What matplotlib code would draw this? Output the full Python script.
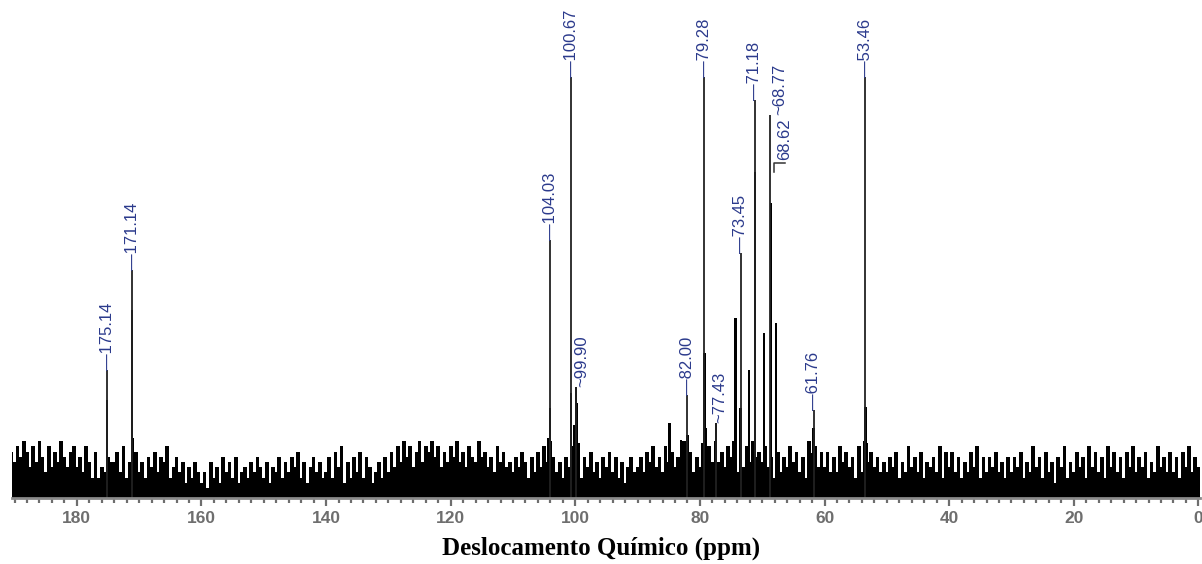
import numpy as np
import matplotlib.pyplot as plt
from matplotlib.ticker import MultipleLocator, FormatStrFormatter

# baseline noise, one level per 0.5 ppm from 190.5 ppm downwards (0..9, read by eye)
noise_levels = (
    "7"
    "58697485963847596478"  # 190 - 180.5
    "46385272436557382547"  # 180 - 170.5
    "35264736582463514253"  # 170 - 160.5
    "13052416352613425364"  # 160 - 150.5
    "25143625364725146352"  # 150 - 140.5
    "36274815263726413526"  # 140 - 130.5
    "37485968479587968475"  # 130 - 120.5
    "86957486596746385745"  # 120 - 110.5
    "36475263748596352648"  # 110 - 100.5
    "35264735264736251463"  # 100 - 90.5
    "46375846385746295736"  # 90 - 80.5
    "47385957486936485967"  # 80 - 70.5
    "58462736485736295847"  # 70 - 60.5
    "47363857462839574635"  # 60 - 50.5
    "36472538463725463827"  # 50 - 40.5
    "47362537482636473526"  # 40 - 30.5
    "36472538462735164825"  # 30 - 20.5
    "37462847362847362748"  # 20 - 10.5
    "36472538463736274836"  # 10 - 0.5
    "45"
)

# signals (ppm, height above baseline in px of the original plot)
peak_ppm = [175.14, 171.14, 171.0, 104.3, 104.03, 100.67, 100.2, 99.90, 99.7, 99.5,
            84.9, 83.0, 82.00, 79.6, 79.28, 79.0, 77.43, 74.25, 73.45, 72.15,
            71.18, 69.7, 68.62, 67.8, 62.0, 61.76, 53.46, 53.2]
peak_height = [98, 188, 60, 60, 90, 105, 73, 111, 95, 55,
               75, 58, 63, 55, 145, 70, 75, 180, 90, 128,
               326, 165, 295, 175, 45, 70, 91, 55]

# peak labels: ppm, text, height where the label starts, sideways shift (ppm)
label_ppm = [175.14, 171.14, 104.03, 100.67, 99.90, 82.00, 79.28, 77.43,
             73.45, 71.18, 68.77, 68.62, 61.76, 53.46]
label_text = ["—175.14", "—171.14", "—104.03", "—100.67", "~99.90", "—82.00",
              "—79.28", "~77.43", "—73.45", "—71.18", "~68.77", "68.62",
              "—61.76", "—53.46"]
label_start = [128, 228, 258, 421, 111, 103, 421, 75, 245, 398, 383, 338, 88, 421]
label_shift = [0, 0, 0, 0, -0.9, 0, 0, -0.6, 0, 0, -1.6, -2.2, 0, 0]

tick_color = "#6e6e6e"
label_color = "#2b3a8c"

fig = plt.figure(figsize=(12.02, 5.64), dpi=100)
ax = fig.add_axes([0.01, 0.117, 0.988, 0.883])

noise_h = np.array([10 + 5.2 * int(c) for c in noise_levels])
noise_ppm = 190.5 - 0.5 * np.arange(len(noise_h))
ax.bar(noise_ppm, noise_h, width=0.6, color="black", linewidth=0)
ax.bar(peak_ppm, peak_height, width=0.4, color="black", linewidth=0)

for p, txt, start, dx in zip(label_ppm, label_text, label_start, label_shift):
    if txt == "68.62":
        # small hooked leader joining the 68.62 label to the signal line
        ax.plot([p - 0.5, p - 0.5, p + dx], [start - 12, start - 3, start - 3],
                color="#333333", lw=1.1)
    else:
        ax.vlines(p, 0, start, color="#222222", lw=1.3)
    ax.text(p + dx, start, txt, rotation=90, ha="center", va="bottom",
            color=label_color, fontsize=12,
            family=["Liberation Sans Narrow", "Liberation Sans", "DejaVu Sans"])

ax.set_xlim(190.4, -0.2)
ax.set_ylim(0, 498)

for side in ["left", "right", "top"]:
    ax.spines[side].set_visible(False)
ax.spines["bottom"].set_color("#8a8a8a")
ax.spines["bottom"].set_linewidth(2)
ax.set_yticks([])

ax.xaxis.set_major_locator(MultipleLocator(20))
ax.xaxis.set_minor_locator(MultipleLocator(2))
ax.xaxis.set_major_formatter(FormatStrFormatter("%d"))
ax.tick_params(axis="x", which="major", length=6, width=1.6, color=tick_color,
               labelcolor=tick_color, labelsize=12.5, pad=3)
ax.tick_params(axis="x", which="minor", length=3.5, width=1.6, color=tick_color)
for t in ax.get_xticklabels():
    t.set_fontweight("bold")
    t.set_family(["Liberation Sans", "DejaVu Sans"])

fig.text(0.5, 1 - 548 / 564, "Deslocamento Químico (ppm)", ha="center", va="center",
         fontsize=18, fontweight="bold", family=["Liberation Serif", "DejaVu Serif"])

fig.savefig("out.png", dpi=100)
